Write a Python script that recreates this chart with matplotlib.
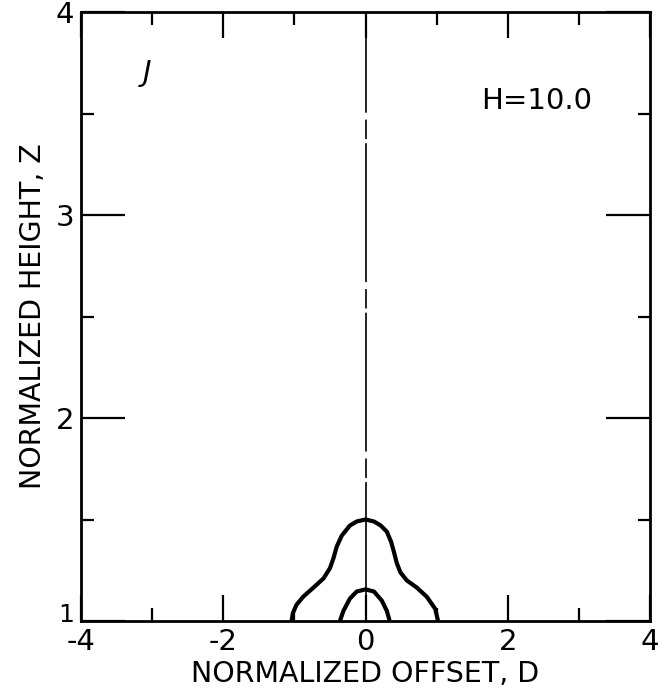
import matplotlib
matplotlib.use("Agg")
import matplotlib.pyplot as plt
import matplotlib.transforms as mtransforms

plt.rcParams['font.family'] = ['DejaVu Sans']
plt.rcParams['lines.scale_dashes'] = False

# contour values (offset D, height Z)
outer_d = [-1.04, -1.02, -0.97, -0.875, -0.73, -0.59, -0.50, -0.45, -0.405, -0.335, -0.22, -0.125, 0.0,
           0.12, 0.215, 0.30, 0.36, 0.40, 0.44, 0.49, 0.58, 0.72, 0.86, 0.98, 1.02]
outer_z = [1.00, 1.04, 1.08, 1.12, 1.165, 1.21, 1.26, 1.31, 1.366, 1.42, 1.47, 1.49, 1.50,
           1.49, 1.47, 1.44, 1.39, 1.34, 1.285, 1.24, 1.20, 1.165, 1.12, 1.06, 1.00]
inner_d = [-0.36, -0.31, -0.22, -0.125, 0.0, 0.12, 0.23, 0.30, 0.34]
inner_z = [1.00, 1.05, 1.11, 1.145, 1.156, 1.145, 1.10, 1.05, 1.00]

x_ticks = [-4, -2, 0, 2, 4]
x_labels = ['-4', '-2', '0', '2', '4']
x_minor = [-3, -1, 1, 3]
y_ticks = [1, 2, 3, 4]
y_labels = ['1', '2', '3', '4']
y_minor = [1.5, 2.5, 3.5]

fig = plt.figure(figsize=(6.69, 6.96), dpi=100)
ax = fig.add_axes([81 / 669, 75 / 696, 569 / 669, 609 / 696])

# symmetry axis, mostly solid with a few breaks
ax.axvline(0, color='black', lw=1.2, dashes=(100, 3, 14, 5))

ax.plot(outer_d, outer_z, color='black', lw=3.0, solid_capstyle='butt', solid_joinstyle='round')
ax.plot(inner_d, inner_z, color='black', lw=3.0, solid_capstyle='butt', solid_joinstyle='round')

ax.set_xlim(-4, 4)
ax.set_ylim(1, 4)

ax.set_xticks(x_ticks)
ax.set_xticklabels(x_labels)
ax.set_xticks(x_minor, minor=True)
ax.set_yticks(y_ticks)
ax.set_yticklabels(y_labels)
ax.set_yticks(y_minor, minor=True)

ax.tick_params(axis='x', which='major', direction='in', length=19, width=1.6,
               top=True, labelsize=21, pad=5)
ax.tick_params(axis='x', which='minor', direction='in', length=9.5, width=1.6, top=True)
ax.tick_params(axis='y', which='major', direction='in', length=32, width=1.6,
               right=True, labelsize=21, pad=5)
ax.tick_params(axis='y', which='minor', direction='in', length=9, width=1.6, right=True)

# lift the "1" so it clears the "-4" below it
lab1 = ax.get_yticklabels()[0]
lab1.set_transform(lab1.get_transform() + mtransforms.ScaledTranslation(0, 6 / 72, fig.dpi_scale_trans))
lab1.set_fontsize(18)

for s in ax.spines.values():
    s.set_linewidth(2.0)

ax.set_xlabel('NORMALIZED OFFSET, D', fontsize=20.5, labelpad=3)
ax.set_ylabel('NORMALIZED HEIGHT, Z', fontsize=20.5, labelpad=6)

ax.text(-3.07, 3.70, 'J', fontsize=21, style='italic', ha='center', va='center')
ax.text(2.41, 3.56, 'H=10.0', fontsize=21, ha='center', va='center')

fig.savefig('out.png', dpi=100)
